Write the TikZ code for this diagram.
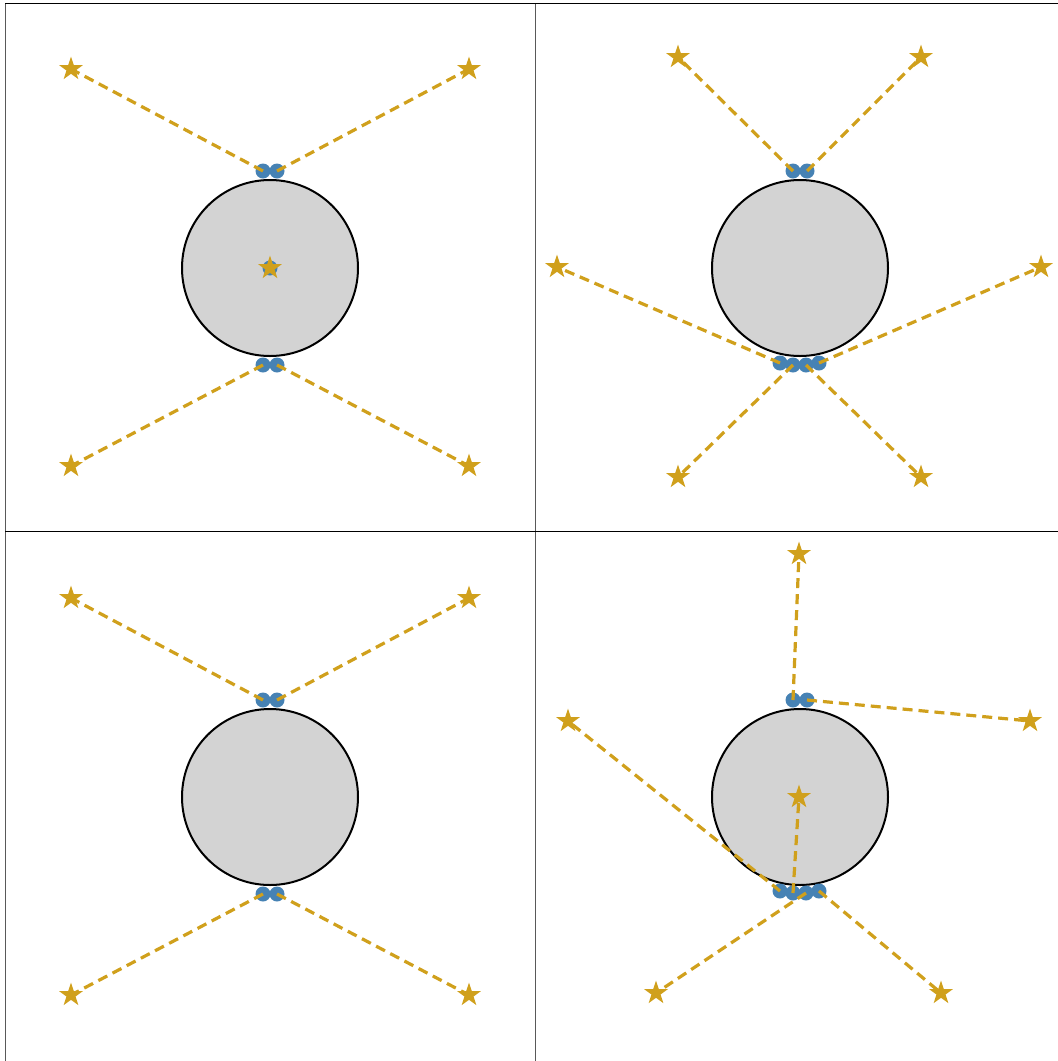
\documentclass[tikz,border=0pt]{standalone}
\usetikzlibrary{shapes.geometric}
\definecolor{ring}{RGB}{211,211,211}
\definecolor{dotblue}{RGB}{70,130,180}
\definecolor{gold}{RGB}{208,160,28}
\tikzset{
  body/.style={circle,draw=black,fill=ring,line width=2pt,minimum size=176pt,inner sep=0pt},
  bead/.style={circle,fill=dotblue,minimum size=15pt,inner sep=0pt},
  starm/.style={star,star points=5,star point ratio=2.6,fill=gold,minimum size=25pt,inner sep=0pt},
  link/.style={gold,line width=3.2pt,dash pattern=on 10pt off 6pt},
  spineh/.style={black,line width=1pt},
  spinev/.style={black!65,line width=1pt}
}
\begin{document}
\begin{tikzpicture}[x=1pt,y=-1pt]
\useasboundingbox (0,0) rectangle (1058,1061);
% panel frames (top and left spines)
\draw[spinev] (5,3) -- (5,1061);
\draw[spinev] (535,3) -- (535,1061);
\draw[spineh] (5,3) -- (1058,3);
\draw[spineh] (5,531) -- (1058,531);

% bodies
\node[body] (bA) at (270,268) {};
\node[body] (bB) at (800,268) {};
\node[body] (bC) at (270,797) {};
\node[body] (bD) at (800,797) {};

% star positions
\coordinate (sA1) at (71,69);   \coordinate (sA2) at (469,69);
\coordinate (sA3) at (71,466);  \coordinate (sA4) at (469,466);
\coordinate (sA0) at (270,268);
\coordinate (sB1) at (678,57);  \coordinate (sB2) at (921,57);
\coordinate (sB3) at (557,267); \coordinate (sB4) at (1041,267);
\coordinate (sB5) at (678,477); \coordinate (sB6) at (921,477);
\coordinate (sC1) at (71,598);  \coordinate (sC2) at (469,598);
\coordinate (sC3) at (71,995);  \coordinate (sC4) at (469,995);
\coordinate (sD1) at (799,554); \coordinate (sD2) at (1030,721);
\coordinate (sD3) at (568,721); \coordinate (sD0) at (799,797);
\coordinate (sD4) at (656,993); \coordinate (sD5) at (941,993);

% beads
\node[bead] (dA1) at (263,171) {}; \node[bead] (dA2) at (277,171) {};
\node[bead] (dA3) at (263,365) {}; \node[bead] (dA4) at (277,365) {};
\node[bead] (dA0) at (270,268) {};
\node[bead] (dB1) at (793,171) {}; \node[bead] (dB2) at (807,171) {};
\node[bead] (dB3) at (780,363) {}; \node[bead] (dB4) at (793,365) {};
\node[bead] (dB5) at (806,365) {}; \node[bead] (dB6) at (819,363) {};
\node[bead] (dC1) at (263,700) {}; \node[bead] (dC2) at (277,700) {};
\node[bead] (dC3) at (263,894) {}; \node[bead] (dC4) at (277,894) {};
\node[bead] (dD1) at (793,700) {}; \node[bead] (dD2) at (807,700) {};
\node[bead] (dD3) at (780,891) {}; \node[bead] (dD4) at (793,893) {};
\node[bead] (dD5) at (806,893) {}; \node[bead] (dD6) at (819,891) {};

% tethers
\draw[link] (dA1.center) -- (sA1); \draw[link] (dA2.center) -- (sA2);
\draw[link] (dA3.center) -- (sA3); \draw[link] (dA4.center) -- (sA4);
\draw[link] (dB1.center) -- (sB1); \draw[link] (dB2.center) -- (sB2);
\draw[link] (dB3.center) -- (sB3); \draw[link] (dB6.center) -- (sB4);
\draw[link] (dB4.center) -- (sB5); \draw[link] (dB5.center) -- (sB6);
\draw[link] (dC1.center) -- (sC1); \draw[link] (dC2.center) -- (sC2);
\draw[link] (dC3.center) -- (sC3); \draw[link] (dC4.center) -- (sC4);
\draw[link] (dD1.center) -- (sD1); \draw[link] (dD2.center) -- (sD2);
\draw[link] (dD3.center) -- (sD3); \draw[link] (dD4.center) -- (sD0);
\draw[link] (dD5.center) -- (sD4); \draw[link] (dD6.center) -- (sD5);

% stars
\foreach \s in {sA0,sA1,sA2,sA3,sA4,sB1,sB2,sB3,sB4,sB5,sB6,sC1,sC2,sC3,sC4,sD0,sD1,sD2,sD3,sD4,sD5}
  \node[starm] (m\s) at (\s) {};
\end{tikzpicture}
\end{document}
